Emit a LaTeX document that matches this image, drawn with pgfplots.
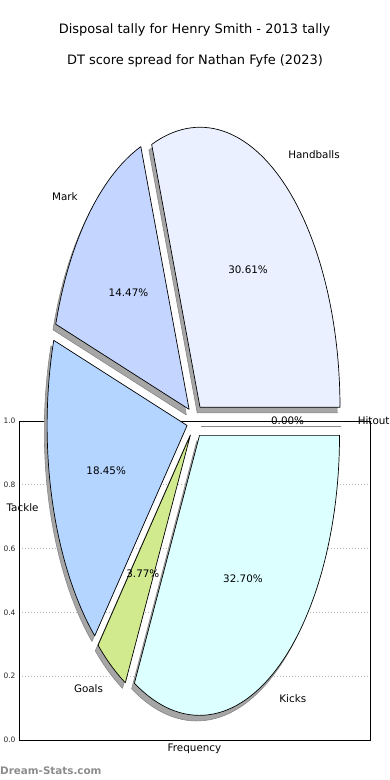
\documentclass[border=0pt]{standalone}
\usepackage{pgfplots}
\pgfplotsset{compat=1.18}
\usepackage{fontspec}
\setmainfont{DejaVu Sans}

\definecolor{cHand}{RGB}{234,240,255}
\definecolor{cMark}{RGB}{196,214,255}
\definecolor{cTack}{RGB}{179,213,255}
\definecolor{cGoal}{RGB}{208,234,141}
\definecolor{cKick}{RGB}{220,255,255}
\definecolor{cShad}{RGB}{166,166,166}
\definecolor{cShadE}{RGB}{135,135,135}
\definecolor{cWm}{RGB}{140,140,140}

\newcommand{\lblfont}{\fontsize{10.4}{12}\selectfont}
\def\cx{195.2}\def\cy{421}\def\rx{140}\def\ry{280}\def\ex{0.06}
\def\shx{-2.8}\def\shy{5.6}
\gdef\cum{0}

\newcommand{\wgeom}[1]{%
  \pgfmathsetmacro\aS{3.6*\cum}%
  \pgfmathsetmacro\aE{3.6*(\cum+#1)}%
  \pgfmathsetmacro\aM{(\aS+\aE)/2}%
  \pgfmathsetmacro\ox{\cx+\ex*\rx*cos(\aM)}%
  \pgfmathsetmacro\oy{\cy-\ex*\ry*sin(\aM)}%
  \pgfmathsetmacro\newcum{\cum+#1}%
  \xdef\cum{\newcum}%
}
\newcommand{\wshadow}[1]{%
  \wgeom{#1}%
  \pgfmathsetmacro\ox{\ox+\shx}\pgfmathsetmacro\oy{\oy+\shy}%
  \addplot[fill=cShad, draw=cShadE, line width=0.6pt, line join=round, domain=0:62, samples=63, variable=\t]
   ({\ox+((\t>0.5)*(\t<61.5))*\rx*cos(\aS+(\t-1)*(\aE-\aS)/60)},
    {\oy-((\t>0.5)*(\t<61.5))*\ry*sin(\aS+(\t-1)*(\aE-\aS)/60)});
}
\newcommand{\wpiece}[2]{%
  \wgeom{#1}%
  \addplot[fill=#2, draw=black, line width=0.7pt, line join=round, domain=0:62, samples=63, variable=\t]
   ({\ox+((\t>0.5)*(\t<61.5))*\rx*cos(\aS+(\t-1)*(\aE-\aS)/60)},
    {\oy-((\t>0.5)*(\t<61.5))*\ry*sin(\aS+(\t-1)*(\aE-\aS)/60)});
}
\newcommand{\wlabel}[2]{%
  \wgeom{#1}%
  \pgfmathsetmacro\lx{\ox+1.1*\rx*cos(\aM)}%
  \pgfmathsetmacro\ly{\oy-1.1*\ry*sin(\aM)}%
  \pgfmathsetmacro\px{\ox+0.6*\rx*cos(\aM)}%
  \pgfmathsetmacro\py{\oy-0.6*\ry*sin(\aM)}%
  \pgfmathsetmacro\cm{cos(\aM)}%
  \ifdim\cm pt>0pt \def\anc{west}\else\def\anc{east}\fi
  \edef\tmp{\noexpand\node[anchor=\anc,inner sep=0pt,font=\noexpand\lblfont] at (axis cs:\lx,\ly) {#2};%
     \noexpand\node[inner sep=0pt,font=\noexpand\lblfont] at (axis cs:\px,\py) {#1\noexpand\%};}%
  \tmp
}

\begin{document}
\begin{tikzpicture}
\path[use as bounding box] (0,0) rectangle (390bp,780bp);
\begin{axis}[
  at={(19bp,40bp)}, anchor=south west, scale only axis,
  width=351bp, height=319bp,
  xmin=0, xmax=1, ymin=0, ymax=1,
  xtick=\empty, ytick={0,0.2,0.4,0.6,0.8,1},
  yticklabel style={/pgf/number format/.cd, fixed, fixed zerofill, precision=1, assume math mode=true},
  tick label style={font=\fontsize{7.5}{8.5}\selectfont, color=black!85},
  major tick length=0pt,
  ymajorgrids, grid style={gray!55, dash pattern=on 1bp off 2bp, line width=0.6bp},
  axis line style={line width=0.7bp, black},
  xlabel={Frequency},
  xlabel style={font=\lblfont, at={(axis description cs:0.5,0)}, anchor=north, yshift=-4bp, inner sep=0pt},
]
\end{axis}
\begin{axis}[
  at={(0bp,0bp)}, anchor=south west, scale only axis,
  width=390bp, height=780bp,
  xmin=0, xmax=390, ymin=0, ymax=780, y dir=reverse,
  hide axis, clip=false,
]
% shadows
\gdef\cum{0}
\wshadow{30.61}\wshadow{14.47}\wshadow{18.45}\wshadow{3.77}\wshadow{32.70}\wshadow{0.00}
% wedges: Handballs, Mark, Tackle, Goals, Kicks, Hitout
\gdef\cum{0}
\wpiece{30.61}{cHand}\wpiece{14.47}{cMark}\wpiece{18.45}{cTack}\wpiece{3.77}{cGoal}\wpiece{32.70}{cKick}\wpiece{0.00}{white}
% labels
\gdef\cum{0}
\wlabel{30.61}{Handballs}\wlabel{14.47}{Mark}\wlabel{18.45}{Tackle}\wlabel{3.77}{Goals}\wlabel{32.70}{Kicks}\wlabel{0.00}{Hitout}
% titles
\node[font=\fontsize{13}{15}\selectfont, inner sep=0pt] at (axis cs:194.5,30) {Disposal tally for Henry Smith - 2013 tally};
\node[font=\fontsize{13}{15}\selectfont, inner sep=0pt] at (axis cs:195,61) {DT score spread for Nathan Fyfe (2023)};
\node[font=\fontsize{10.4}{12}\selectfont\bfseries, text=cWm, anchor=west, inner sep=0pt] at (axis cs:0,771) {Dream-Stats.com};
\end{axis}
\end{tikzpicture}
\end{document}
